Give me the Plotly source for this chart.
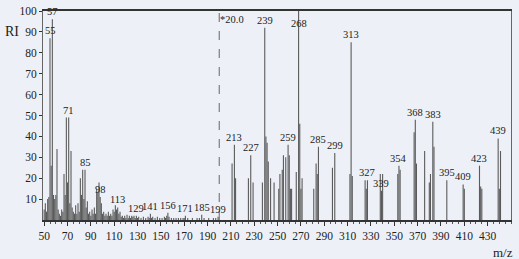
import plotly.graph_objects as go

# m/z values and relative intensities (RI); region above m/z 200 shown x20
mz = [50, 51, 52, 53, 54, 55, 56, 57, 58, 59, 60, 61, 62, 63, 64, 65, 66, 67, 68, 69,
      70, 71, 72, 73, 74, 75, 76, 77, 78, 79, 80, 81, 82, 83, 84, 85, 86, 87, 88, 89,
      90, 91, 92, 93, 94, 95, 96, 97, 98, 99, 100, 101, 102, 103, 104, 105, 106, 107,
      108, 109, 110, 111, 112, 113, 114, 115, 116, 117, 118, 119, 120, 121, 122, 123,
      124, 125, 126, 127, 128, 129, 130, 131, 133, 135, 137, 139, 140, 141, 142, 143,
      145, 147, 149, 151, 153, 154, 155, 156, 157, 159, 161, 163, 165, 167, 169, 170,
      171, 173, 177, 181, 183, 185, 187, 191, 195, 197, 199,
      211, 213, 214, 225, 227, 229, 237, 239, 240, 241, 242, 244, 247, 251, 252, 254,
      255, 257, 259, 260, 261, 262, 266, 268, 269, 270, 271, 281, 283, 284, 285, 297,
      299, 312, 313, 314, 325, 326, 327, 338, 339, 340, 353, 354, 355, 367, 368, 369,
      376, 380, 381, 383, 384, 395, 409, 410, 423, 424, 425, 439, 440, 441]
ri = [5, 8, 4, 10, 11, 87, 26, 96, 12, 10, 12, 34, 5, 3, 2, 5, 4, 22, 12, 49,
      18, 49, 8, 33, 6, 4, 3, 7, 3, 8, 4, 20, 12, 24, 10, 24, 6, 9, 3, 4,
      2, 5, 3, 6, 3, 15, 13, 18, 11, 8, 3, 4, 2, 3, 2, 4, 2, 3,
      2, 5, 4, 7, 5, 6, 3, 4, 1.5, 2, 1, 2, 1, 2.5, 1, 2,
      1, 2, 1.5, 2, 1, 2, 1, 1.5, 1, 1.5, 1, 1.5, 1, 3, 1, 1.5,
      1, 1.5, 1, 1, 1.5, 1, 2, 3.5, 1.5, 1, 1, 1, 1, 1, 1, 1,
      2, 1, 1, 1, 1, 2.5, 1, 1, 1, 1, 1.5,
      27, 36, 20, 20, 31, 18, 18, 92, 40, 37, 28, 20, 18, 15, 22, 24,
      31, 30, 36, 31, 15, 15, 23, 100, 46, 15, 20, 15, 27, 22, 35, 25,
      32, 22, 85, 21, 19, 15, 19, 22, 14, 22, 22, 26, 24, 42, 48, 27,
      33, 18, 22, 47, 35, 19, 17, 15, 26, 16, 15, 39, 15, 33]

labels = [55, 57, 71, 85, 98, 113, 129, 141, 156, 171, 185, 199, 213, 227, 239,
          259, 268, 285, 299, 313, 327, 339, 354, 368, 383, 395, 409, 423, 439]

x_ticks = list(range(50, 431, 20))
y_ticks = list(range(10, 101, 10))
magnify_at = 200
magnify_text = "*20.0"

BG = "#edf1f7"
BAR = "#5a5a5a"
FONT = "Liberation Serif"

xs, ys = [], []
for m, v in zip(mz, ri):
    xs += [m, m, None]
    ys += [0, v, None]

fig = go.Figure()
fig.add_trace(go.Scatter(x=xs, y=ys, mode="lines",
                         line=dict(color=BAR, width=1.1),
                         hoverinfo="skip", showlegend=False))

# magnification marker (dashed)
fig.add_trace(go.Scatter(x=[magnify_at, magnify_at], y=[0, 100], mode="lines",
                         line=dict(color="#666", width=1, dash="dash"),
                         hoverinfo="skip", showlegend=False))

lookup = dict(zip(mz, ri))
for lab in labels:
    v = lookup.get(lab, 0)
    yl = v if v < 100 else 90.5
    fig.add_annotation(x=lab, y=yl, text=str(lab), showarrow=False,
                       yanchor="bottom", yshift=0,
                       font=dict(family=FONT, size=10.5, color="#222"))

fig.add_annotation(x=magnify_at, y=96, text=magnify_text, showarrow=False,
                   xanchor="left", yanchor="middle", xshift=-1,
                   font=dict(family=FONT, size=10.5, color="#222"))

fig.add_annotation(xref="paper", yref="paper", x=-0.085, y=0.9, text="RI",
                   showarrow=False, xanchor="left", yanchor="middle",
                   font=dict(family=FONT, size=14, color="#222"))
fig.add_annotation(xref="paper", yref="paper", x=1.0, y=-0.155, text="m/z",
                   showarrow=False, xanchor="right", yanchor="middle", xshift=4,
                   font=dict(family=FONT, size=13, color="#222"))

fig.update_layout(
    width=519, height=259,
    margin=dict(l=43, r=8, t=5, b=39),
    paper_bgcolor=BG, plot_bgcolor=BG,
    font=dict(family=FONT, size=12, color="#222"),
    xaxis=dict(range=[49, 450], tickvals=x_ticks, ticks="outside", ticklen=4,
               tickcolor="#333", showline=True, linecolor="#333", linewidth=1.5,
               mirror=True, showgrid=False, zeroline=False,
               minor=dict(dtick=5, tick0=50, ticks="outside", ticklen=2,
                          tickcolor="#555"),
               tickfont=dict(family=FONT, size=11.5, color="#222")),
    yaxis=dict(range=[0, 100], tickvals=y_ticks, ticks="outside", ticklen=3,
               tickcolor="#333", showline=True, linecolor="#666", linewidth=1,
               mirror=True, showgrid=False, zeroline=False,
               ticklabeloverflow="allow",
               tickfont=dict(family=FONT, size=11.5, color="#222")),
)

fig.write_html("out.html", config={"displayModeBar": False},
               post_script="document.body.style.margin='0';"
                           "document.body.style.background='" + BG + "';")
